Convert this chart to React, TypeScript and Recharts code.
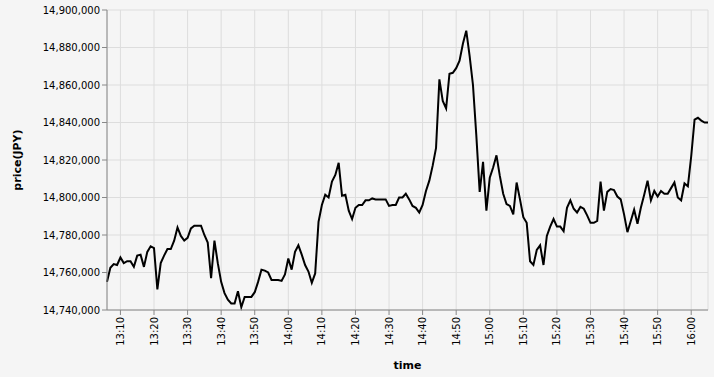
import React from "react";
import { LineChart, Line, XAxis, YAxis, CartesianGrid } from "recharts";

// first time of the series (13:06) and one price per minute
const startTime = "13:06";
const prices: number[] = [
  // 13:06 - 13:59
  14755000, 14762500, 14764500, 14764000, 14768000, 14765000, 14766000, 14766000, 14763000, 14769000,
  14769500, 14763000, 14771000, 14774000, 14773000, 14751000, 14765000, 14769000, 14772500, 14772500,
  14777000, 14784000, 14779500, 14777000, 14778500, 14783500, 14785000, 14785000, 14785000, 14780000,
  14776000, 14757000, 14777000, 14765000, 14755000, 14749000, 14745500, 14743500, 14743500, 14750000,
  14741500, 14747000, 14747000, 14747000, 14749500, 14755000, 14761500, 14761000, 14760000, 14756000,
  14756000, 14756000, 14755500, 14759000,
  // 14:00 - 14:59
  14767500, 14761500, 14771000, 14774500, 14769500, 14764000, 14760500, 14754500, 14759500, 14787000,
  14796000, 14801500, 14800000, 14808500, 14812000, 14818500, 14801000, 14801500, 14793000, 14788500,
  14794500, 14796000, 14796000, 14798500, 14798500, 14799500, 14799000, 14799000, 14799000, 14799000,
  14795500, 14796000, 14796000, 14800000, 14800000, 14802000, 14799000, 14795500, 14794500, 14792000,
  14796000, 14803500, 14809000, 14817000, 14826500, 14863000, 14851500, 14847500, 14866000, 14866500,
  14869000, 14873000, 14882000, 14889000, 14875500, 14860000, 14833000, 14803000, 14819000, 14793000,
  // 15:00 - 15:59
  14810500, 14816000, 14822500, 14811500, 14802000, 14796500, 14795500, 14791000, 14808000, 14799000,
  14789500, 14786500, 14766000, 14764000, 14772000, 14774500, 14764000, 14779500, 14784500, 14788500,
  14784500, 14784500, 14782000, 14794500, 14798500, 14794000, 14792000, 14795000, 14794000, 14790500,
  14786500, 14786500, 14787500, 14808500, 14793000, 14803000, 14804500, 14804000, 14800500, 14799000,
  14791000, 14781500, 14787500, 14793500, 14786000, 14794500, 14801500, 14809000, 14798500, 14803500,
  14800500, 14803500, 14802000, 14802000, 14805000, 14808000, 14800000, 14798500, 14807500, 14806000,
  // 16:00 - 16:05
  14822000, 14841500, 14842500, 14841000, 14840000, 14840000,
];

const xTickLabels = [
  "13:10", "13:20", "13:30", "13:40", "13:50", "14:00", "14:10", "14:20", "14:30",
  "14:40", "14:50", "15:00", "15:10", "15:20", "15:30", "15:40", "15:50", "16:00",
];
const yTicks = [14740000, 14760000, 14780000, 14800000, 14820000, 14840000, 14860000, 14880000, 14900000];

const toMin = (s: string) => {
  const [h, m] = s.split(":").map(Number);
  return h * 60 + m;
};
const toLabel = (v: number) => {
  const h = Math.floor(v / 60);
  const m = v % 60;
  return `${h}:${m < 10 ? "0" : ""}${m}`;
};

const start = toMin(startTime);
const data = prices.map((p, i) => ({ t: start + i, price: p }));
const xTicks = xTickLabels.map(toMin);

const FONT = "DejaVu Sans";

const XTick = (props: any) => {
  const { x, y, payload } = props;
  return (
    <g transform={`translate(${x},${y})`}>
      <text
        transform="rotate(-90)"
        textAnchor="end"
        dy="0.35em"
        fontSize={10}
        fontFamily={FONT}
        fill="#000"
      >
        {toLabel(payload.value)}
      </text>
    </g>
  );
};

export default function App() {
  return (
    <div
      style={{
        position: "absolute",
        left: 0,
        top: 0,
        width: 714,
        height: 377,
        background: "#f5f5f5",
        overflow: "hidden",
      }}
    >
      <LineChart
        width={714}
        height={377}
        data={data}
        margin={{ top: 10, right: 6, left: 0, bottom: 0 }}
      >
        <CartesianGrid stroke="#ddd" />
        <XAxis
          dataKey="t"
          type="number"
          domain={[start, start + prices.length - 1]}
          ticks={xTicks}
          height={67}
          tickSize={5}
          tickMargin={2}
          tick={<XTick />}
          axisLine={{ stroke: "#888" }}
          tickLine={{ stroke: "#888" }}
          interval={0}
        />
        <YAxis
          dataKey="price"
          type="number"
          domain={[14740000, 14900000]}
          ticks={yTicks}
          width={107}
          tickSize={5}
          tickMargin={2}
          interval={0}
          tickFormatter={(v: number) => v.toLocaleString("en-US")}
          tick={{ fontSize: 10, fill: "#000", fontFamily: FONT }}
          axisLine={{ stroke: "#888" }}
          tickLine={{ stroke: "#888" }}
        />
        <Line
          type="linear"
          dataKey="price"
          stroke="#000"
          strokeWidth={2}
          dot={false}
          isAnimationActive={false}
        />
      </LineChart>
      <div
        style={{
          position: "absolute",
          left: 18 - 50,
          top: 160 - 7,
          width: 100,
          height: 14,
          lineHeight: "14px",
          textAlign: "center",
          transform: "rotate(-90deg)",
          fontFamily: FONT,
          fontSize: 11,
          fontWeight: "bold",
          color: "#000",
        }}
      >
        price(JPY)
      </div>
      <div
        style={{
          position: "absolute",
          left: 407.5 - 50,
          top: 366 - 7,
          width: 100,
          height: 14,
          lineHeight: "14px",
          textAlign: "center",
          fontFamily: FONT,
          fontSize: 11,
          fontWeight: "bold",
          color: "#000",
        }}
      >
        time
      </div>
    </div>
  );
}
